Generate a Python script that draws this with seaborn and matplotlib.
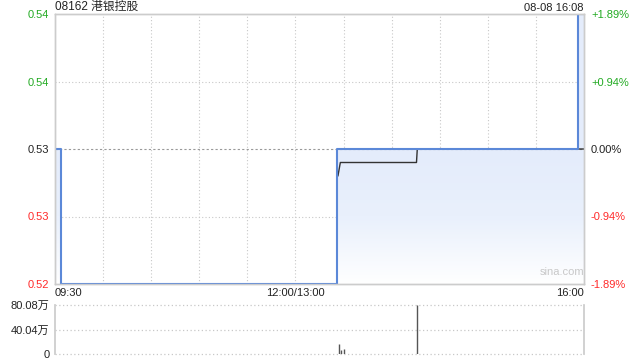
import numpy as np
import pandas as pd
import matplotlib
matplotlib.use("Agg")
import matplotlib.pyplot as plt
import seaborn as sns
from matplotlib.patches import Polygon
from matplotlib.colors import LinearSegmentedColormap

sns.set_theme(style="white")
plt.rcParams['font.family'] = ['Liberation Sans', 'Noto Sans CJK SC', 'DejaVu Sans']

# ---- data (minutes since 09:30, lunch break collapsed) ----
title = "08162 港银控股"
stamp = "08-08 16:08"
prev_close = 0.53
price_minutes = [0, 3.5, 176, 326, 330]
price_values = [0.53, 0.52, 0.53, 0.54, 0.54]
avg_minutes = [176.5, 178, 225.5, 226, 330]
avg_values = [0.5280, 0.5290, 0.5290, 0.5300, 0.5300]
vol_minutes = [177, 178.5, 180, 226]
vol_values = [16.5, 6.5, 8.0, 80.08]  # 万
price_ticks = [0.52, 0.525, 0.53, 0.535, 0.54]
price_labels = ["0.52", "0.53", "0.53", "0.54", "0.54"]
pct_labels = ["-1.89%", "-0.94%", "0.00%", "+0.94%", "+1.89%"]
vol_ticks = [0, 40.04, 80.08]
vol_labels = ["0", "40.04万", "80.08万"]
time_ticks = [0, 150, 330]
time_labels = ["09:30", "12:00/13:00", "16:00"]
total_minutes = 330

GREEN = "#22aa22"
RED = "#ff2a2a"
GRID = "#c8c8c8"
SPINE = "#cccccc"

fig = plt.figure(figsize=(6.4, 3.6), dpi=100)
ax = fig.add_axes([55/640, 1-284/360, 529/640, 270/360])
axv = fig.add_axes([55/640, 1-354/360, 529/640, 49/360])

ymin, ymax = 0.52, 0.54
ax.set_xlim(0, total_minutes)
ax.set_ylim(ymin, ymax)

# gradient fill under the price step line
xs, ys = [], []
for i in range(len(price_minutes) - 1):
    xs += [price_minutes[i], price_minutes[i+1]]
    ys += [price_values[i], price_values[i]]
xs.append(price_minutes[-1]); ys.append(price_values[-1])
poly_pts = list(zip(xs, ys)) + [(xs[-1], ymin), (xs[0], ymin)]
poly = Polygon(poly_pts, closed=True, facecolor="none", edgecolor="none")
ax.add_patch(poly)
grad = np.linspace(0, 1, 256).reshape(-1, 1)
cmap = LinearSegmentedColormap.from_list("g", ["#ffffff", "#e9f0fc", "#e4ecfb"])
im = ax.imshow(grad, extent=[0, total_minutes, ymin, 0.53], origin="lower",
               aspect="auto", cmap=cmap, zorder=1)
im.set_clip_path(poly)
im2 = ax.imshow(np.ones((2, 2)), extent=[0, total_minutes, 0.53, ymax], origin="lower",
                aspect="auto", cmap=LinearSegmentedColormap.from_list("h", ["#e4ecfb", "#e4ecfb"]),
                zorder=1)
im2.set_clip_path(poly)

# grid
for i in range(1, 11):
    ax.axvline(i * 30, color=GRID, lw=0.8, ls=(0, (1, 2)), zorder=0.5)
for t in price_ticks:
    if t == prev_close:
        ax.axhline(t, color="#999999", lw=0.8, ls=(0, (2, 2)), zorder=2)
    elif ymin < t < ymax:
        ax.axhline(t, color=GRID, lw=0.8, ls=(0, (1, 2)), zorder=0.5)

df_p = pd.DataFrame({"m": price_minutes, "p": price_values})
df_a = pd.DataFrame({"m": avg_minutes, "p": avg_values})
sns.lineplot(data=df_a, x="m", y="p", ax=ax, color="#333333", lw=1.0, zorder=3)
sns.lineplot(data=df_p, x="m", y="p", ax=ax, color="#5b88d8", lw=1.5,
             drawstyle="steps-post", zorder=4)
ax.set_xlabel(""); ax.set_ylabel("")

ax.set_yticks(price_ticks)
ax.set_yticklabels(price_labels, fontsize=8)
for lab, t in zip(ax.get_yticklabels(), price_ticks):
    lab.set_color(GREEN if t > prev_close else (RED if t < prev_close else "#222222"))
ax.tick_params(axis="y", length=0, pad=4)

ax2 = ax.twinx()
ax2.set_ylim(ymin, ymax)
ax2.set_yticks(price_ticks)
ax2.set_yticklabels(pct_labels, fontsize=8)
for lab, t in zip(ax2.get_yticklabels(), price_ticks):
    lab.set_color(GREEN if t > prev_close else (RED if t < prev_close else "#222222"))
ax2.tick_params(axis="y", length=0, pad=5)
ax2.grid(False)

ax.set_xticks(time_ticks)
ax.set_xticklabels(time_labels, fontsize=8, color="#222222")
ax.tick_params(axis="x", length=0, pad=3)
xl = ax.get_xticklabels()
xl[0].set_ha("left"); xl[-1].set_ha("right")

for a in (ax, ax2):
    for s in a.spines.values():
        s.set_color(SPINE); s.set_linewidth(1.0)

ax.text(0, 1.003, title, transform=ax.transAxes, ha="left", va="bottom",
        fontsize=8.5, color="#222222")
ax.text(1, 1.003, stamp, transform=ax.transAxes, ha="right", va="bottom",
        fontsize=8, color="#222222")
ax.text(0.958, 0.025, "sina.com", transform=ax.transAxes, ha="center", va="bottom",
        fontsize=8, color="#c8c8c8", zorder=5)

# volume
axv.set_xlim(0, total_minutes)
axv.set_ylim(0, max(vol_values))
axv.vlines(vol_minutes, 0, vol_values, color="#555555", lw=1.0)
for t in vol_ticks:
    axv.axhline(t, color=GRID, lw=0.9, ls=(0, (1, 2)), zorder=0, clip_on=False)
axv.set_yticks(vol_ticks)
axv.set_yticklabels(vol_labels, fontsize=8, color="#222222")
axv.tick_params(axis="y", length=0, pad=4)
axv.set_xticks([])
for k, s in axv.spines.items():
    if k in ("top", "bottom"):
        s.set_visible(False)
    else:
        s.set_color(SPINE)

fig.savefig("out.png", dpi=100, facecolor="white")
